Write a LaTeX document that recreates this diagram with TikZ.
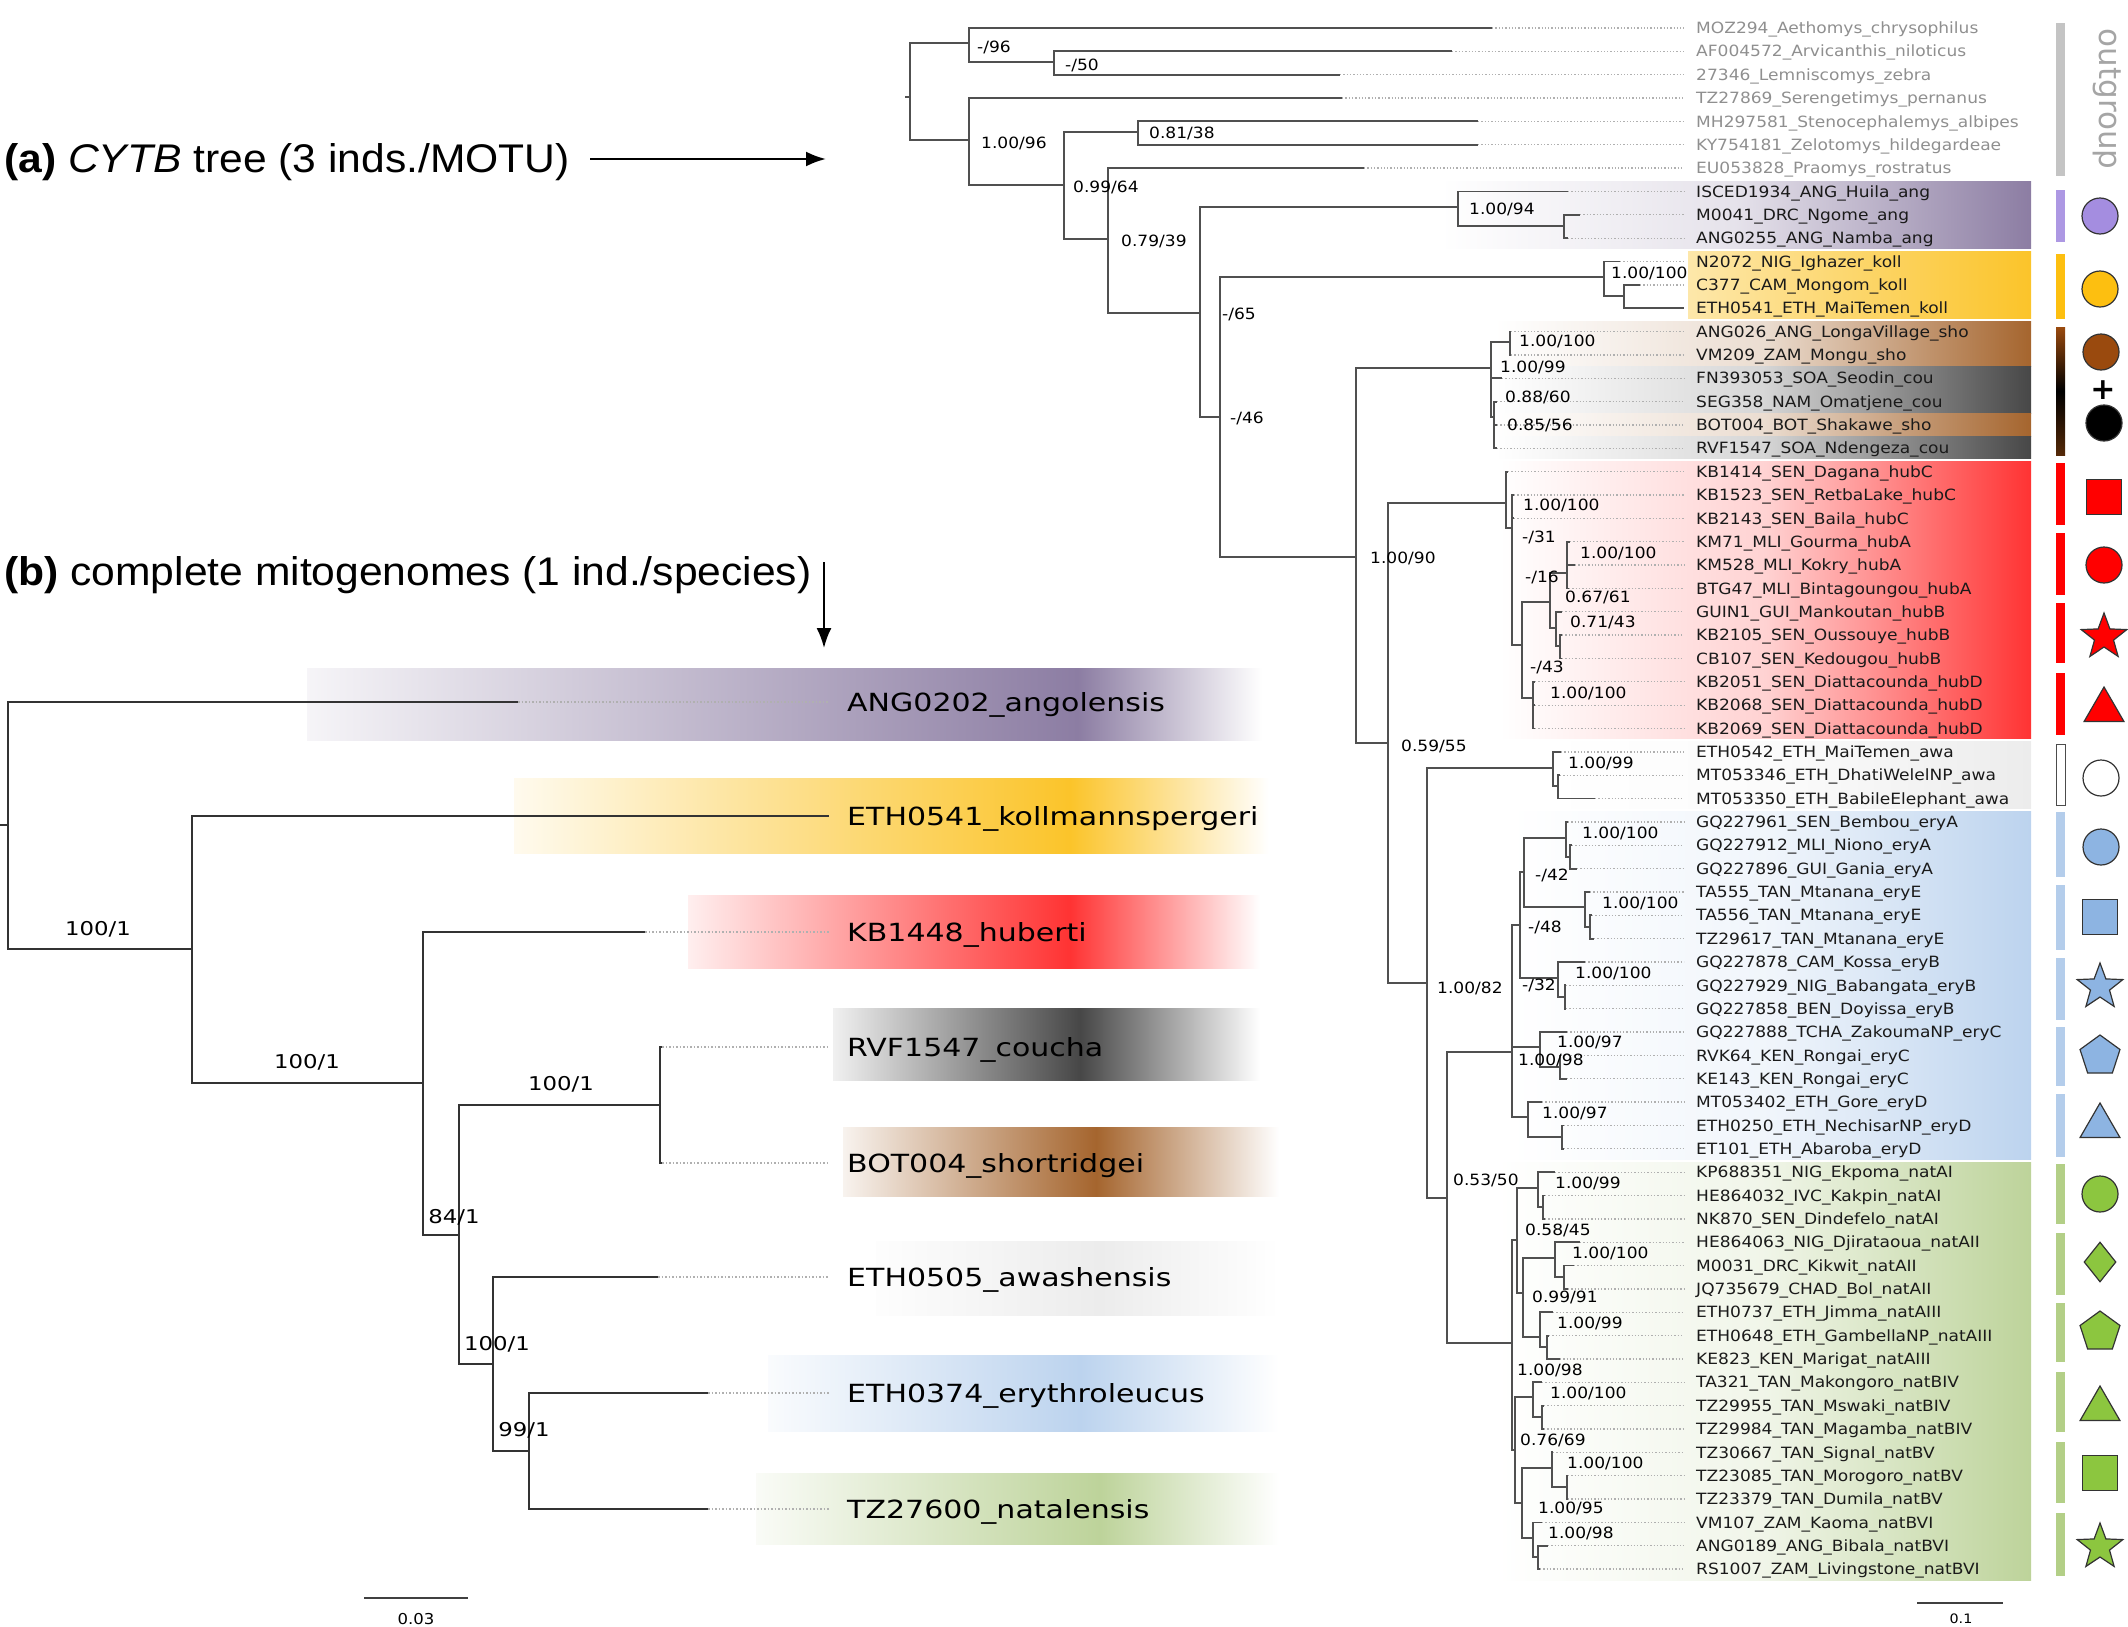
\documentclass[tikz,border=0pt]{standalone}
\usepackage{fontspec}
\setmainfont{Liberation Sans}[FakeStretch=1.065]
\newfontfamily\treefont{DejaVu Sans}[FakeStretch=1.1]
\newfontfamily\mitofont{DejaVu Sans}[FakeStretch=1.2]
\newfontfamily\plainfont{DejaVu Sans}
\usetikzlibrary{arrows.meta}
\usetikzlibrary{shapes.geometric}

\definecolor{branchgray}{HTML}{505050}
\definecolor{dotgray}{HTML}{B0B0B0}
\definecolor{tipblack}{HTML}{1A1A1A}
\definecolor{outgray}{HTML}{8F8F8F}
\definecolor{angband}{HTML}{8C7DA3}
\definecolor{kollband}{HTML}{FBC42A}
\definecolor{shoband}{HTML}{A5652E}
\definecolor{couband}{HTML}{474747}
\definecolor{hubband}{HTML}{FF3333}
\definecolor{awaband}{HTML}{ECECEC}
\definecolor{eryband}{HTML}{BCD3EE}
\definecolor{natband}{HTML}{BDD39A}
\definecolor{outbar}{HTML}{C4C4C4}
\definecolor{angsym}{HTML}{A48DE0}
\definecolor{kollsym}{HTML}{FDBF10}
\definecolor{shosym}{HTML}{9A4A0E}
\definecolor{hubsym}{HTML}{FF0000}
\definecolor{erysym}{HTML}{8DB4E2}
\definecolor{erybar}{HTML}{B4CDEB}
\definecolor{natsym}{HTML}{8CC63F}
\definecolor{natbar}{HTML}{B3CF87}

% tip of the CYTB tree: [style]{name}{row}{branch end}{label}
\newcommand*{\tipR}[5][]{%
  \coordinate (#2) at (#4, {28+23.35*#3});
  \node [tiplabel, #1] (#2-l) at (1696, {28+23.35*#3}) {#5};
  \draw [tipdots] (#2) -- ([xshift=-12pt]#2-l.west);
}
\newcommand*{\supR}[4]{\node [support] (#1) at (#2,#3) {#4};}
% tip of the mitogenome tree: {name}{y}{branch end}{label}
\newcommand*{\tipM}[4]{%
  \coordinate (#1) at (#3,#2);
  \node [mitolabel] (#1-l) at (847,#2) {#4};
  \draw [mitodots] (#1) -- ([xshift=-18pt]#1-l.west);
}
\newcommand*{\supM}[4]{\node [mitosupport] (#1) at (#2,#3) {#4};}
% colour band behind a mitogenome tip
\newcommand*{\mband}[6]{%
  \path [left color=#1!8, right color=#1] (#2,#5) rectangle (#3,#6);
  \path [left color=#1, right color=white] (#3,#5) rectangle (#4,#6);
}

\begin{document}
\begin{tikzpicture}[x=1pt, y=-1pt,
    branch/.style = {draw=branchgray, line width=1.8pt},
    mitobranch/.style = {draw=black!80, line width=2.4pt},
    tipdots/.style = {draw=dotgray, line width=1.3pt, dotted},
    mitodots/.style = {draw=dotgray, line width=1.5pt, dotted},
    tiplabel/.style = {anchor=west, inner sep=0pt, text height=11.3pt, text depth=0pt,
                       font=\treefont\fontsize{15.5}{17}\selectfont, text=tipblack},
    outtext/.style = {text=outgray},
    support/.style = {anchor=west, inner sep=0pt, text height=11.3pt, text depth=0pt,
                      font=\treefont\fontsize{15.5}{17}\selectfont},
    mitolabel/.style = {anchor=west, inner sep=0pt, text height=18.2pt, text depth=0pt,
                        font=\mitofont\fontsize{25}{28}\selectfont},
    mitosupport/.style = {inner sep=0pt, text height=13.8pt, text depth=0pt,
                          font=\mitofont\fontsize{19}{22}\selectfont},
    header/.style = {anchor=west, inner sep=0pt, text height=29pt, text depth=0pt,
                     font=\fontsize{40}{48}\selectfont},
    pointer/.style = {line width=2.5pt, -{Latex[length=20pt, width=15pt]}},
    band/.style = {left color=white, right color=#1, middle color=#1!22},
    scalebar/.style = {draw=black!75, line width=2.5pt},
    scaletext/.style = {inner sep=0pt, font=\treefont\fontsize{13}{15}\selectfont},
    sym/.style = {draw=black!80, line width=1.2pt, inner sep=0pt},
    symcirc/.style = {sym, circle, minimum size=36pt},
    symsq/.style = {sym, rectangle, minimum size=35pt},
    symtri/.style = {sym, regular polygon, regular polygon sides=3, minimum size=46pt},
    sympent/.style = {sym, regular polygon, regular polygon sides=5, minimum size=42pt},
    symstar/.style = {sym, star, star points=5, star point ratio=2.4, minimum size=48pt},
    symdiam/.style = {sym, diamond, minimum width=32pt, minimum height=40pt}]

\useasboundingbox (0,0) rectangle (2128,1627);

% ---------------- (a) CYTB tree ----------------
% clade bands
\path [band=angband] (1440,181.5) rectangle (2031,248.5);
\path [left color=kollband!40, right color=kollband] (1688,251.5) rectangle (2031,318.5);
\path [band=shoband] (1495,321.5) rectangle (2031,366.6);
\path [band=couband] (1495,366.6) rectangle (2031,413.3);
\path [band=shoband] (1495,413.3) rectangle (2031,436.6);
\path [band=couband] (1495,436.6) rectangle (2031,458.5);
\path [band=hubband] (1500,461.5) rectangle (2031,738.5);
\path [band=awaband] (1541,741.5) rectangle (2031,808.5);
\path [band=eryband] (1510,811.5) rectangle (2031,1159);
\path [band=natband] (1497,1162) rectangle (2031,1580);

% internal nodes (x of node, y of its stem)
\coordinate (Rstub) at (905,97);
\coordinate (R) at (910,97);
\coordinate (O1) at (969,43);
\coordinate (O3) at (1054,62);
\coordinate (O2) at (969,140);
\coordinate (O4) at (1064,185);
\coordinate (O5) at (1138,132);
\coordinate (I1) at (1108,239);
\coordinate (I2) at (1200,313);
\coordinate (A1) at (1458,207);
\coordinate (A2) at (1564,226);
\coordinate (I3) at (1220,417);
\coordinate (K1) at (1604,277);
\coordinate (K2) at (1624,296);
\coordinate (I4) at (1356,557);
\coordinate (S1) at (1491,368);
\coordinate (S2) at (1510,342);
\coordinate (S3) at (1494,417);
\coordinate (I5) at (1388,743);
\coordinate (H1) at (1506,503);
\coordinate (H2) at (1512,528);
\coordinate (H4) at (1522,645);
\coordinate (H5) at (1550,602);
\coordinate (H6) at (1567,573);
\coordinate (H7) at (1556,628);
\coordinate (H7b) at (1560,646);
\coordinate (H8) at (1533,698);
\coordinate (I6) at (1427,983);
\coordinate (W1) at (1553,768);
\coordinate (W2) at (1558,786);
\coordinate (I7) at (1447,1198);
\coordinate (E0) at (1512,1052);
\coordinate (E1) at (1520,925);
\coordinate (E2) at (1524,872);
\coordinate (E2a) at (1566,838);
\coordinate (E2b) at (1570,857);
\coordinate (E3) at (1585,907);
\coordinate (E3b) at (1590,927);
\coordinate (E4) at (1558,978);
\coordinate (E4b) at (1565,997);
\coordinate (E5) at (1540,1047);
\coordinate (E5b) at (1560,1067);
\coordinate (E6) at (1528,1117);
\coordinate (E6b) at (1562,1137);
\coordinate (N0) at (1512,1343);
\coordinate (NX) at (1517,1240);
\coordinate (NA1) at (1538,1188);
\coordinate (NA1b) at (1543,1207);
\coordinate (NB) at (1523,1293);
\coordinate (NA2) at (1555,1258);
\coordinate (NA2b) at (1564,1277);
\coordinate (NA3) at (1540,1337);
\coordinate (NA3b) at (1547,1347);
\coordinate (NY) at (1515,1450);
\coordinate (NB4) at (1533,1397);
\coordinate (NB4b) at (1542,1417);
\coordinate (NZ) at (1522,1503);
\coordinate (NB5) at (1552,1468);
\coordinate (NB5b) at (1567,1487);
\coordinate (NB6) at (1533,1538);
\coordinate (NB6b) at (1538,1557);

% tips
\tipR[outtext]{MOZ294}{0}{1492}{MOZ294\_Aethomys\_chrysophilus}
\tipR[outtext]{AF004572}{1}{1452}{AF004572\_Arvicanthis\_niloticus}
\tipR[outtext]{Z27346}{2}{1340}{27346\_Lemniscomys\_zebra}
\tipR[outtext]{TZ27869}{3}{1342}{TZ27869\_Serengetimys\_pernanus}
\tipR[outtext]{MH297581}{4}{1478}{MH297581\_Stenocephalemys\_albipes}
\tipR[outtext]{KY754181}{5}{1478}{KY754181\_Zelotomys\_hildegardeae}
\tipR[outtext]{EU053828}{6}{1364}{EU053828\_Praomys\_rostratus}
\tipR{ISCED1934}{7}{1568}{ISCED1934\_ANG\_Huila\_ang}
\tipR{M0041}{8}{1580}{M0041\_DRC\_Ngome\_ang}
\tipR{ANG0255}{9}{1568}{ANG0255\_ANG\_Namba\_ang}
\tipR{N2072}{10}{1620}{N2072\_NIG\_Ighazer\_koll}
\tipR{C377}{11}{1640}{C377\_CAM\_Mongom\_koll}
\tipR{ETH0541}{12}{1684}{ETH0541\_ETH\_MaiTemen\_koll}
\tipR{ANG026}{13}{1511}{ANG026\_ANG\_LongaVillage\_sho}
\tipR{VM209}{14}{1511}{VM209\_ZAM\_Mongu\_sho}
\tipR{FN393053}{15}{1502}{FN393053\_SOA\_Seodin\_cou}
\tipR{SEG358}{16}{1497}{SEG358\_NAM\_Omatjene\_cou}
\tipR{BOT004}{17}{1497}{BOT004\_BOT\_Shakawe\_sho}
\tipR{RVF1547}{18}{1497}{RVF1547\_SOA\_Ndengeza\_cou}
\tipR{KB1414}{19}{1508}{KB1414\_SEN\_Dagana\_hubC}
\tipR{KB1523}{20}{1514}{KB1523\_SEN\_RetbaLake\_hubC}
\tipR{KB2143}{21}{1514}{KB2143\_SEN\_Baila\_hubC}
\tipR{KM71}{22}{1570}{KM71\_MLI\_Gourma\_hubA}
\tipR{KM528}{23}{1575}{KM528\_MLI\_Kokry\_hubA}
\tipR{BTG47}{24}{1569}{BTG47\_MLI\_Bintagoungou\_hubA}
\tipR{GUIN1}{25}{1562}{GUIN1\_GUI\_Mankoutan\_hubB}
\tipR{KB2105}{26}{1562}{KB2105\_SEN\_Oussouye\_hubB}
\tipR{CB107}{27}{1562}{CB107\_SEN\_Kedougou\_hubB}
\tipR{KB2051}{28}{1535}{KB2051\_SEN\_Diattacounda\_hubD}
\tipR{KB2068}{29}{1535}{KB2068\_SEN\_Diattacounda\_hubD}
\tipR{KB2069}{30}{1535}{KB2069\_SEN\_Diattacounda\_hubD}
\tipR{ETH0542}{31}{1561}{ETH0542\_ETH\_MaiTemen\_awa}
\tipR{MT053346}{32}{1560}{MT053346\_ETH\_DhatiWelelNP\_awa}
\tipR{MT053350}{33}{1595}{MT053350\_ETH\_BabileElephant\_awa}
\tipR{GQ227961}{34}{1568}{GQ227961\_SEN\_Bembou\_eryA}
\tipR{GQ227912}{35}{1572}{GQ227912\_MLI\_Niono\_eryA}
\tipR{GQ227896}{36}{1577}{GQ227896\_GUI\_Gania\_eryA}
\tipR{TA555}{37}{1590}{TA555\_TAN\_Mtanana\_eryE}
\tipR{TA556}{38}{1592}{TA556\_TAN\_Mtanana\_eryE}
\tipR{TZ29617}{39}{1594}{TZ29617\_TAN\_Mtanana\_eryE}
\tipR{GQ227878}{40}{1585}{GQ227878\_CAM\_Kossa\_eryB}
\tipR{GQ227929}{41}{1566}{GQ227929\_NIG\_Babangata\_eryB}
\tipR{GQ227858}{42}{1566}{GQ227858\_BEN\_Doyissa\_eryB}
\tipR{GQ227888}{43}{1567}{GQ227888\_TCHA\_ZakoumaNP\_eryC}
\tipR{RVK64}{44}{1561}{RVK64\_KEN\_Rongai\_eryC}
\tipR{KE143}{45}{1567}{KE143\_KEN\_Rongai\_eryC}
\tipR{MT053402}{46}{1542}{MT053402\_ETH\_Gore\_eryD}
\tipR{ETH0250}{47}{1564}{ETH0250\_ETH\_NechisarNP\_eryD}
\tipR{ET101}{48}{1564}{ET101\_ETH\_Abaroba\_eryD}
\tipR{KP688351}{49}{1555}{KP688351\_NIG\_Ekpoma\_natAI}
\tipR{HE864032}{50}{1545}{HE864032\_IVC\_Kakpin\_natAI}
\tipR{NK870}{51}{1545}{NK870\_SEN\_Dindefelo\_natAI}
\tipR{HE864063}{52}{1580}{HE864063\_NIG\_Djirataoua\_natAII}
\tipR{M0031}{53}{1574}{M0031\_DRC\_Kikwit\_natAII}
\tipR{JQ735679}{54}{1568}{JQ735679\_CHAD\_Bol\_natAII}
\tipR{ETH0737}{55}{1553}{ETH0737\_ETH\_Jimma\_natAIII}
\tipR{ETH0648}{56}{1549}{ETH0648\_ETH\_GambellaNP\_natAIII}
\tipR{KE823}{57}{1560}{KE823\_KEN\_Marigat\_natAIII}
\tipR{TA321}{58}{1542}{TA321\_TAN\_Makongoro\_natBIV}
\tipR{TZ29955}{59}{1544}{TZ29955\_TAN\_Mswaki\_natBIV}
\tipR{TZ29984}{60}{1544}{TZ29984\_TAN\_Magamba\_natBIV}
\tipR{TZ30667}{61}{1553}{TZ30667\_TAN\_Signal\_natBV}
\tipR{TZ23085}{62}{1568}{TZ23085\_TAN\_Morogoro\_natBV}
\tipR{TZ23379}{63}{1568}{TZ23379\_TAN\_Dumila\_natBV}
\tipR{VM107}{64}{1542}{VM107\_ZAM\_Kaoma\_natBVI}
\tipR{ANG0189}{65}{1548}{ANG0189\_ANG\_Bibala\_natBVI}
\tipR{RS1007}{66}{1540}{RS1007\_ZAM\_Livingstone\_natBVI}

% branches
\draw [branch] (Rstub) -- (R);
\draw [branch] (R) |- (O1) (R) |- (O2);
\draw [branch] (O1) |- (MOZ294) (O1) |- (O3);
\draw [branch] (O3) |- (AF004572) (O3) |- (Z27346);
\draw [branch] (O2) |- (TZ27869) (O2) |- (O4);
\draw [branch] (O4) |- (O5) (O4) |- (I1);
\draw [branch] (O5) |- (MH297581) (O5) |- (KY754181);
\draw [branch] (I1) |- (EU053828) (I1) |- (I2);
\draw [branch] (I2) |- (A1) (I2) |- (I3);
\draw [branch] (A1) |- (ISCED1934) (A1) |- (A2);
\draw [branch] (A2) |- (M0041) (A2) |- (ANG0255);
\draw [branch] (I3) |- (K1) (I3) |- (I4);
\draw [branch] (K1) |- (N2072) (K1) |- (K2);
\draw [branch] (K2) |- (C377) (K2) |- (ETH0541);
\draw [branch] (I4) |- (S1) (I4) |- (I5);
\draw [branch] (S1) |- (S2) (S1) |- (FN393053) (S1) |- (S3);
\draw [branch] (S2) |- (ANG026) (S2) |- (VM209);
\draw [branch] (S3) |- (SEG358) (S3) |- (BOT004) (S3) |- (RVF1547);
\draw [branch] (I5) |- (H1) (I5) |- (I6);
\draw [branch] (H1) |- (KB1414) (H1) |- (H2);
\draw [branch] (H2) |- (KB1523) (H2) |- (KB2143) (H2) |- (H4);
\draw [branch] (H4) |- (H5) (H4) |- (H8);
\draw [branch] (H5) |- (H6) (H5) |- (H7);
\draw [branch] (H6) |- (KM71) (H6) |- (KM528) (H6) |- (BTG47);
\draw [branch] (H7) |- (GUIN1) (H7) |- (H7b);
\draw [branch] (H7b) |- (KB2105) (H7b) |- (CB107);
\draw [branch] (H8) |- (KB2051) (H8) |- (KB2068) (H8) |- (KB2069);
\draw [branch] (I6) |- (W1) (I6) |- (I7);
\draw [branch] (W1) |- (ETH0542) (W1) |- (W2);
\draw [branch] (W2) |- (MT053346) (W2) |- (MT053350);
\draw [branch] (I7) |- (E0) (I7) |- (N0);
\draw [branch] (E0) |- (E1) (E0) |- (E5) (E0) |- (E6);
\draw [branch] (E1) |- (E2) (E1) |- (E4);
\draw [branch] (E2) |- (E2a) (E2) |- (E3);
\draw [branch] (E2a) |- (GQ227961) (E2a) |- (E2b);
\draw [branch] (E2b) |- (GQ227912) (E2b) |- (GQ227896);
\draw [branch] (E3) |- (TA555) (E3) |- (E3b);
\draw [branch] (E3b) |- (TA556) (E3b) |- (TZ29617);
\draw [branch] (E4) |- (GQ227878) (E4) |- (E4b);
\draw [branch] (E4b) |- (GQ227929) (E4b) |- (GQ227858);
\draw [branch] (E5) |- (GQ227888) (E5) |- (E5b);
\draw [branch] (E5b) |- (RVK64) (E5b) |- (KE143);
\draw [branch] (E6) |- (MT053402) (E6) |- (E6b);
\draw [branch] (E6b) |- (ETH0250) (E6b) |- (ET101);
\draw [branch] (N0) |- (NX) (N0) |- (NY);
\draw [branch] (NX) |- (NA1) (NX) |- (NB);
\draw [branch] (NA1) |- (KP688351) (NA1) |- (NA1b);
\draw [branch] (NA1b) |- (HE864032) (NA1b) |- (NK870);
\draw [branch] (NB) |- (NA2) (NB) |- (NA3);
\draw [branch] (NA2) |- (HE864063) (NA2) |- (NA2b);
\draw [branch] (NA2b) |- (M0031) (NA2b) |- (JQ735679);
\draw [branch] (NA3) |- (ETH0737) (NA3) |- (NA3b);
\draw [branch] (NA3b) |- (ETH0648) (NA3b) |- (KE823);
\draw [branch] (NY) |- (NB4) (NY) |- (NZ);
\draw [branch] (NB4) |- (TA321) (NB4) |- (NB4b);
\draw [branch] (NB4b) |- (TZ29955) (NB4b) |- (TZ29984);
\draw [branch] (NZ) |- (NB5) (NZ) |- (NB6);
\draw [branch] (NB5) |- (TZ30667) (NB5) |- (NB5b);
\draw [branch] (NB5b) |- (TZ23085) (NB5b) |- (TZ23379);
\draw [branch] (NB6) |- (VM107) (NB6) |- (NB6b);
\draw [branch] (NB6b) |- (ANG0189) (NB6b) |- (RS1007);

% node support (PP/BS)
\supR{sO1}{977}{47}{-/96}
\supR{sO3}{1065}{65}{-/50}
\supR{sO2}{981}{143}{1.00/96}
\supR{sO5}{1149}{133}{0.81/38}
\supR{sO4}{1073}{187}{0.99/64}
\supR{sI1}{1121}{241}{0.79/39}
\supR{sA1}{1469}{209}{1.00/94}
\supR{sK1}{1611}{273}{1.00/100}
\supR{sI2}{1222}{314}{-/65}
\supR{sI3}{1230}{418}{-/46}
\supR{sS2}{1519}{341}{1.00/100}
\supR{sS1}{1500}{367}{1.00/99}
\supR{sS3}{1505}{397}{0.88/60}
\supR{sS4}{1507}{425}{0.85/56}
\supR{sI4}{1370}{558}{1.00/90}
\supR{sH1}{1523}{505}{1.00/100}
\supR{sH2}{1522}{537}{-/31}
\supR{sH6}{1580}{553}{1.00/100}
\supR{sH5}{1525}{577}{-/16}
\supR{sH7}{1565}{597}{0.67/61}
\supR{sH7b}{1570}{622}{0.71/43}
\supR{sH4}{1530}{667}{-/43}
\supR{sH8}{1550}{693}{1.00/100}
\supR{sI5}{1401}{746}{0.59/55}
\supR{sW1}{1568}{763}{1.00/99}
\supR{sE2a}{1582}{833}{1.00/100}
\supR{sE2}{1535}{875}{-/42}
\supR{sE3}{1602}{903}{1.00/100}
\supR{sE1}{1528}{927}{-/48}
\supR{sE4}{1575}{973}{1.00/100}
\supR{sE4b}{1522}{985}{-/32}
\supR{sI6}{1437}{988}{1.00/82}
\supR{sE5}{1557}{1042}{1.00/97}
\supR{sE0}{1518}{1060}{1.00/98}
\supR{sE6}{1542}{1113}{1.00/97}
\supR{sI7}{1453}{1180}{0.53/50}
\supR{sNA1}{1555}{1183}{1.00/99}
\supR{sNX}{1525}{1230}{0.58/45}
\supR{sNA2}{1572}{1253}{1.00/100}
\supR{sNB}{1532}{1297}{0.99/91}
\supR{sNA3}{1557}{1323}{1.00/99}
\supR{sN0}{1517}{1370}{1.00/98}
\supR{sNB4}{1550}{1393}{1.00/100}
\supR{sNY}{1520}{1440}{0.76/69}
\supR{sNB5}{1567}{1463}{1.00/100}
\supR{sNZ}{1538}{1508}{1.00/95}
\supR{sNB6}{1548}{1533}{1.00/98}

% clade bars
\path [fill=outbar] (2056,23) rectangle (2065,176);
\path [fill=angsym!90!white] (2056,190) rectangle (2065,242);
\path [fill=kollsym] (2056,254) rectangle (2065,319);
\path [top color=shosym, bottom color=shosym!55!black, middle color=black] (2056,327) rectangle (2065,455);
\path [fill=hubsym] (2056,463) rectangle (2065,525);
\path [fill=hubsym] (2056,533) rectangle (2065,595);
\path [fill=hubsym] (2056,603) rectangle (2065,663);
\path [fill=hubsym] (2056,673) rectangle (2065,735);
\path [fill=white, draw=black!70, line width=0.8pt] (2056,744) rectangle (2065,805);
\path [fill=erybar] (2056,812) rectangle (2065,877);
\path [fill=erybar] (2056,885) rectangle (2065,950);
\path [fill=erybar] (2056,958) rectangle (2065,1020);
\path [fill=erybar] (2056,1027) rectangle (2065,1086);
\path [fill=erybar] (2056,1094) rectangle (2065,1157);
\path [fill=natbar] (2056,1164) rectangle (2065,1224);
\path [fill=natbar] (2056,1233) rectangle (2065,1295);
\path [fill=natbar] (2056,1303) rectangle (2065,1362);
\path [fill=natbar] (2056,1372) rectangle (2065,1432);
\path [fill=natbar] (2056,1442) rectangle (2065,1503);
\path [fill=natbar] (2056,1513) rectangle (2065,1576);

\node [rotate=-90, inner sep=0pt, text=outgray!80,
       font=\plainfont\fontsize{31}{34}\selectfont] (outgrp) at (2107,99) {outgroup};

% symbols
\node [symcirc, fill=angsym] (keyAng) at (2100,216) {};
\node [symcirc, fill=kollsym] (keyKoll) at (2100,289) {};
\node [symcirc, fill=shosym] (keySho) at (2101,352) {};
\node [inner sep=0pt, font=\plainfont\bfseries\fontsize{30}{30}\selectfont] (keyPlus) at (2103,390) {+};
\node [symcirc, fill=black] (keyCou) at (2104,423) {};
\node [symsq, fill=hubsym] (keyHubC) at (2104,497) {};
\node [symcirc, fill=hubsym] (keyHubA) at (2104,565) {};
\node [symstar, fill=hubsym] (keyHubB) at (2104,637) {};
\node [symtri, fill=hubsym] (keyHubD) at (2104,710) {};
\node [symcirc, fill=white] (keyAwa) at (2101,778) {};
\node [symcirc, fill=erysym] (keyEryA) at (2101,847) {};
\node [symsq, fill=erysym] (keyEryE) at (2100,917) {};
\node [symstar, fill=erysym] (keyEryB) at (2100,987) {};
\node [sympent, fill=erysym] (keyEryC) at (2100,1056) {};
\node [symtri, fill=erysym] (keyEryD) at (2100,1126) {};
\node [symcirc, fill=natsym] (keyNatAI) at (2100,1194) {};
\node [symdiam, fill=natsym] (keyNatAII) at (2100,1262) {};
\node [sympent, fill=natsym] (keyNatAIII) at (2100,1332) {};
\node [symtri, fill=natsym] (keyNatBIV) at (2100,1409) {};
\node [symsq, fill=natsym] (keyNatBV) at (2100,1473) {};
\node [symstar, fill=natsym] (keyNatBVI) at (2100,1547) {};

% scale bar
\coordinate (barR0) at (1917,1603);
\coordinate (barR1) at (2003,1603);
\draw [scalebar] (barR0) -- (barR1);
\node [scaletext] (barRt) at (1961,1619) {0.1};

% ---------------- (b) mitogenome tree ----------------
\mband{angband}{307}{1078}{1262}{668}{740}
\mband{kollband}{514}{1070}{1269}{778}{853}
\mband{hubband}{688}{1070}{1260}{895}{968}
\mband{couband}{833}{1080}{1260}{1008}{1080}
\mband{shoband}{843}{1096}{1279}{1127}{1196}
\mband{awaband}{876}{1100}{1279}{1241}{1315}
\mband{eryband}{768}{1080}{1279}{1355}{1431}
\mband{natband}{756}{1100}{1279}{1473}{1544}

\coordinate (mStub) at (0,825);
\coordinate (mR) at (8,825);
\coordinate (mL1) at (192,949);
\coordinate (mL2) at (423,1083);
\coordinate (mL3) at (459,1235);
\coordinate (mL4) at (660,1105);
\coordinate (mL5) at (493,1364);
\coordinate (mL6) at (529,1451);

\tipM{mANG0202}{702}{518}{ANG0202\_angolensis}
\tipM{mETH0541}{816}{829}{ETH0541\_kollmannspergeri}
\tipM{mKB1448}{932}{645}{KB1448\_huberti}
\tipM{mRVF1547}{1047}{662}{RVF1547\_coucha}
\tipM{mBOT004}{1163}{662}{BOT004\_shortridgei}
\tipM{mETH0505}{1277}{658}{ETH0505\_awashensis}
\tipM{mETH0374}{1393}{708}{ETH0374\_erythroleucus}
\tipM{mTZ27600}{1509}{708}{TZ27600\_natalensis}

\draw [mitobranch] (mStub) -- (mR);
\draw [mitobranch] (mR) |- (mANG0202) (mR) |- (mL1);
\draw [mitobranch] (mL1) |- (mETH0541) (mL1) |- (mL2);
\draw [mitobranch] (mL2) |- (mKB1448) (mL2) |- (mL3);
\draw [mitobranch] (mL3) |- (mL4) (mL3) |- (mL5);
\draw [mitobranch] (mL4) |- (mRVF1547) (mL4) |- (mBOT004);
\draw [mitobranch] (mL5) |- (mETH0505) (mL5) |- (mL6);
\draw [mitobranch] (mL6) |- (mETH0374) (mL6) |- (mTZ27600);

\supM{smL1}{98}{929}{100/1}
\supM{smL2}{307}{1062}{100/1}
\supM{smL4}{561}{1084}{100/1}
\supM{smL3}{454}{1217}{84/1}
\supM{smL5}{497}{1344}{100/1}
\supM{smL6}{524}{1430}{99/1}

\coordinate (barL0) at (364,1598);
\coordinate (barL1) at (468,1598);
\draw [scalebar] (barL0) -- (barL1);
\node [scaletext, font=\treefont\fontsize{15}{17}\selectfont] (barLt) at (416,1619) {0.03};

% ---------------- captions ----------------
\node [header] (capA) at (4,158) {\textbf{(a)} \textit{CYTB} tree (3 inds./MOTU)};
\coordinate (capAtail) at (590,159);
\coordinate (capAtip) at (826,159);
\draw [pointer] (capAtail) -- (capAtip);

\node [header] (capB) at (4,571) {\textbf{(b)} complete mitogenomes (1 ind./species)};
\coordinate (capBtail) at (824,562);
\coordinate (capBtip) at (824,648);
\draw [pointer, line width=2pt] (capBtail) -- (capBtip);
\end{tikzpicture}
\end{document}
